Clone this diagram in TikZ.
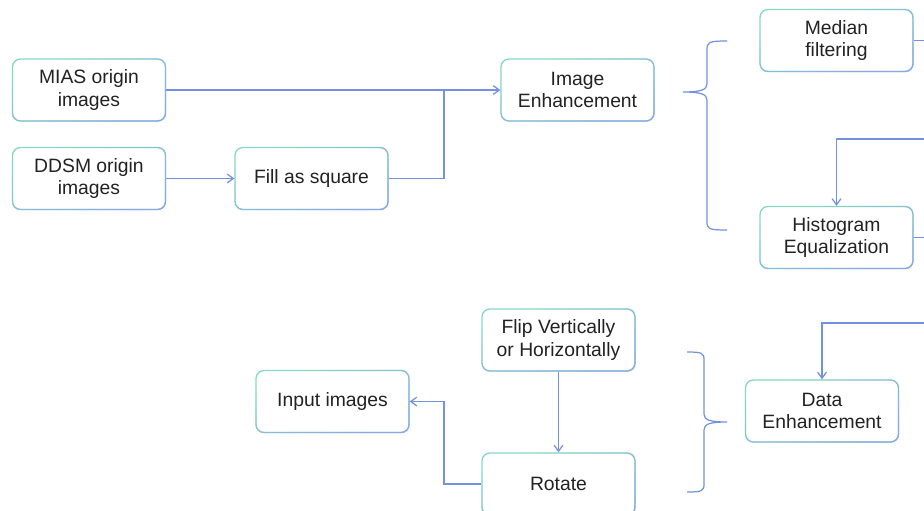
\documentclass[tikz,border=0pt]{standalone}
\usepackage{fontspec}
\setmainfont{Liberation Sans}
\usetikzlibrary{arrows.meta,fadings}

\definecolor{boxgreen}{HTML}{84D8C2}
\definecolor{boxblue}{HTML}{8CA6E8}
\definecolor{linkblue}{HTML}{7391E0}
\definecolor{txtgray}{HTML}{222222}

% diagonal fade so the border goes green (top left) to blue (bottom right)
\tikzfading[name=diagfade, top color=transparent!100, bottom color=transparent!0, shading angle=45]

\begin{document}
\begin{tikzpicture}[x=0.02cm, y=-0.02cm,
    box/.style={rectangle, rounded corners=4.5pt, draw=boxgreen, line width=0.75pt,
        minimum width=3.06cm, minimum height=1.24cm, inner sep=0pt, align=center,
        text=txtgray, font=\fontsize{11pt}{13pt}\selectfont,
        postaction={draw=boxblue, line width=0.75pt, path fading=diagfade, fit fading=true}},
    link/.style={draw=linkblue, line width=0.7pt},
    brace/.style={draw=linkblue, line width=0.7pt},
    >={Straight Barb[length=3.5pt,width=5pt]}]
    \useasboundingbox (0,0) rectangle (924,511);

    % Input side
    \node[box] (mias) at (89,90) {MIAS origin\\images};
    \node[box] (ddsm) at (89,178.5) {DDSM origin\\images};
    \node[box] (fill) at (311.5,178.5) {Fill as square};
    \node[box] (imgenh) at (577.5,90) {Image\\Enhancement};

    % Enhancement steps
    \node[box] (median) at (836.5,40.5) {Median\\filtering};
    \node[box] (histeq) at (836.5,237.5) {Histogram\\Equalization};
    \node[box] (dataenh) at (822,411) {Data\\Enhancement};

    % Augmentation
    \node[box] (flip) at (558.5,340) {Flip Vertically\\or Horizontally};
    \node[box] (rotate) at (558.5,484) {Rotate};
    \node[box] (input) at (332.5,401.5) {Input images};

    % turning points and loose ends at the right border
    \coordinate (join) at (444,90);
    \coordinate (medout) at (924,40.5);
    \coordinate (hisin) at (924,139);
    \coordinate (hisout) at (924,237.5);
    \coordinate (datain) at (924,323);
    \coordinate (rotturn) at (444,401.5);

    % Connectors
    \draw[link,->] (mias) -- (imgenh);
    \draw[link,->] (ddsm) -- (fill);
    \draw[link] (fill) -| (join);
    \draw[link] (median) -- (medout);
    \draw[link,->] (hisin) -| (histeq);
    \draw[link] (histeq) -- (hisout);
    \draw[link,->] (datain) -| (dataenh);
    \draw[link,->] (flip) -- (rotate);
    \draw[link,->] (rotate) -| (rotturn) -- (input);

    % Braces
    \draw[brace] (727,41) .. controls (709,41) and (707,42) .. (707,50) -- (707,84)
        .. controls (707,90) and (700,92) .. (683,92)
        .. controls (700,92) and (707,94) .. (707,100) -- (707,222)
        .. controls (707,229) and (709,230) .. (727,230);
    \draw[brace] (687,352) .. controls (702,352) and (704,353) .. (704,360) -- (704,414)
        .. controls (704,420) and (710,422) .. (727,422)
        .. controls (710,422) and (704,424) .. (704,430) -- (704,484)
        .. controls (704,491) and (702,492) .. (687,492);
\end{tikzpicture}
\end{document}
